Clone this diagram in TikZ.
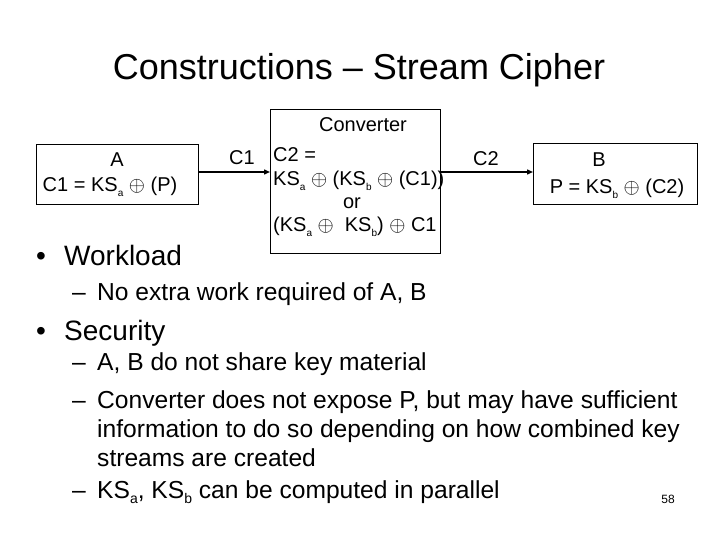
\documentclass[tikz,border=0pt]{standalone}
\usepackage{fontspec}
\setmainfont{Liberation Sans}
\usetikzlibrary{arrows.meta}
\newcommand{\xo}{\ensuremath{\oplus}}
\newcommand{\sub}[1]{\raisebox{-0.45ex}{\fontsize{10}{10}\selectfont #1}}
\newcommand{\subl}[1]{\raisebox{-0.4ex}{\fontsize{14}{14}\selectfont #1}}
\begin{document}
\begin{tikzpicture}[x=1pt,y=-1pt,
  boxst/.style={draw,line width=0.9pt,inner sep=0pt,anchor=north west},
  bt/.style={inner sep=0pt,font=\fontsize{20}{24}\selectfont},
  conn/.style={line width=1.4pt,-{Triangle[length=6pt,width=5pt]}},
  lone/.style={inner sep=0pt,anchor=base west,font=\fontsize{28}{32}\selectfont},
  ltwo/.style={inner sep=0pt,anchor=base west,font=\fontsize{24.6}{28}\selectfont}]
\useasboundingbox (0,0) rectangle (720,540);
% title
\node[inner sep=0pt,anchor=base,font=\fontsize{36}{42}\selectfont] (title) at (359,80) {Constructions – Stream Cipher};
% boxes
\node[boxst,minimum width=162pt,minimum height=60pt] (A) at (36,144) {};
\node[boxst,minimum width=170pt,minimum height=144pt] (conv) at (270,109) {};
\node[boxst,minimum width=164pt,minimum height=61pt] (B) at (533,143) {};
% box A text
\node[bt,anchor=base] (Aname) at (117,167) {A};
\node[bt,anchor=base] (Aeq) at (110,192) {C1 = KS\sub{a} \xo{} (P)};
% converter text
\node[bt,anchor=base] (cname) at (363,132) {Converter};
\node[bt,anchor=base west] (c1) at (273,162) {C2 =};
\node[bt,anchor=base west] (c2) at (273,186) {KS\sub{a} \xo{} (KS\sub{b} \xo{} (C1))};
\node[bt,anchor=base] (c3) at (352,209) {or};
\node[bt,anchor=base west] (c4) at (273,232) {(KS\sub{a} \xo{}\ \ KS\sub{b}) \xo{} C1};
% box B text
\node[bt,anchor=base] (Bname) at (599,167) {B};
\node[bt,anchor=base] (Beq) at (617,194) {P = KS\sub{b} \xo{} (C2)};
% connectors
\coordinate (a1) at (198,172);
\coordinate (b1) at (440,172);
\draw[conn] (a1) -- (a1 -| conv.west);
\draw[conn] (b1) -- (b1 -| B.west);
\node[bt,anchor=base] (lc1) at (242,165) {C1};
\node[bt,anchor=base] (lc2) at (486,166) {C2};
% bullets
\node[lone] (wb) at (36,265) {•};
\node[lone] (w) at (64,265) {Workload};
\node[ltwo] (w1d) at (72,300) {–};
\node[ltwo] (w1) at (97,300) {No extra work required of A, B};
\node[lone] (sb) at (36,340) {•};
\node[lone] (s) at (64,340) {Security};
\node[ltwo] (s1d) at (72,370) {–};
\node[ltwo] (s1) at (97,370) {A, B do not share key material};
\node[ltwo] (s2d) at (72,408) {–};
\node[ltwo] (s2) at (97,408) {Converter does not expose P, but may have sufficient};
\node[ltwo] (s2b) at (97,437) {information to do so depending on how combined key};
\node[ltwo] (s2c) at (97,466) {streams are created};
\node[ltwo] (s3d) at (72,498) {–};
\node[ltwo] (s3) at (97,498) {KS\subl{a}, KS\subl{b} can be computed in parallel};
\node[inner sep=0pt,anchor=base,font=\fontsize{12}{14}\selectfont] (pg) at (668,503) {58};
\end{tikzpicture}
\end{document}
